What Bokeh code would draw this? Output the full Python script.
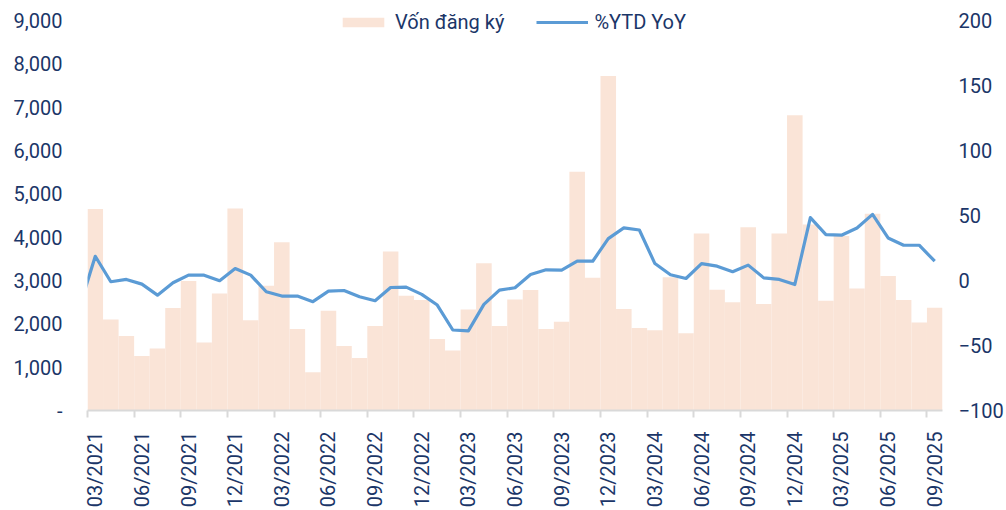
from bokeh.plotting import figure
from bokeh.models import (ColumnDataSource, Range1d, LinearAxis, FixedTicker,
                          Legend, LegendItem)
from bokeh.embed import file_html
from bokeh.resources import INLINE
import math

# ---------------- data ----------------
years_months = [(2021, m) for m in range(3, 13)] + [(2022, m) for m in range(1, 13)] + \
               [(2023, m) for m in range(1, 13)] + [(2024, m) for m in range(1, 13)] + \
               [(2025, m) for m in range(1, 10)]
months = [f"{m:02d}/{y}" for (y, m) in years_months]

von_dang_ky = [4650, 2100, 1720, 1255, 1430, 2365, 2990, 1570, 2700, 4660,
               2080, 2880, 3880, 1880, 880, 2300, 1490, 1210, 1950, 3670,
               2650, 2550, 1650, 1385, 2330, 3400, 1950, 2560, 2780, 1880,
               2050, 5510, 3060, 7720, 2340, 1905, 1850, 3075, 1785, 4085,
               2785, 2495, 4225, 2455, 4085, 6810, 4290, 2530, 4025, 2815,
               4540, 3105, 2550, 2030, 2370]

# %YTD YoY; first value belongs to 02/2021 (only its segment edge is visible)
ytd_prev = -20.0
ytd_yoy = [18.6, -1.0, 0.8, -2.8, -11.3, -1.8, 4.1, 4.1, -0.2, 9.2,
           4.1, -8.7, -12.0, -12.0, -16.3, -8.2, -7.7, -12.5, -15.6, -5.4,
           -5.1, -10.7, -18.9, -38.1, -38.8, -18.4, -7.4, -5.6, 4.6, 8.2,
           7.9, 14.8, 14.8, 32.2, 40.4, 38.8, 13.0, 4.4, 1.5, 13.0,
           11.0, 6.7, 11.8, 2.0, 0.8, -3.1, 48.3, 35.3, 34.8, 40.4,
           50.8, 32.7, 27.1, 27.1, 14.8]

left_ticks = [0, 1000, 2000, 3000, 4000, 5000, 6000, 7000, 8000, 9000]
right_ticks = [-100, -50, 0, 50, 100, 150, 200]

# ---------------- styling ----------------
NAVY = "#1B3668"
BAR = "#FAE4D7"
LINE = "#5B9BD5"
FONT = "Roboto"
FS = "20px"

# frame spans page y 0..412, while the axes' top ticks (9,000 / 200) sit at y=20
FRAME_H = 412
AXIS_H = 392
left_max = 9000 * FRAME_H / AXIS_H
right_max = -100 + 300 * FRAME_H / AXIS_H

n = len(months)
xs = [i + 0.5 for i in range(n)]
bar_src = ColumnDataSource(dict(x=xs, top=von_dang_ky, month=months))
line_src = ColumnDataSource(dict(x=[-0.5] + xs, y=[ytd_prev] + ytd_yoy))

p = figure(width=1006, height=510, output_backend="svg", toolbar_location=None,
           x_range=Range1d(0, n), y_range=Range1d(0, left_max),
           min_border_left=87, min_border_right=63, min_border_top=0,
           min_border_bottom=98)
p.outline_line_color = None
p.grid.grid_line_color = None
p.background_fill_color = "white"
p.border_fill_color = "white"

p.extra_y_ranges = {"pct": Range1d(-100, right_max)}

bars = p.vbar(x="x", top="top", width=1.0, bottom=0, source=bar_src,
              fill_color=BAR, line_color=None)
line = p.line(x="x", y="y", source=line_src, y_range_name="pct",
              line_color=LINE, line_width=3.2, line_join="round")

# x axis: labels at bar centres every 3 months, tick marks at bar edges
xax = p.xaxis[0]
label_pos = [i + 0.5 for i in range(0, n, 3)]
xax.ticker = FixedTicker(ticks=label_pos, minor_ticks=[float(i) for i in range(0, n, 3)])
xax.major_label_overrides = {i + 0.5: months[i] for i in range(0, n, 3)}
xax.major_label_orientation = math.pi / 2
xax.major_tick_line_color = None
xax.major_tick_out = 0
xax.major_tick_in = 0
xax.minor_tick_line_color = "#D9D9D9"
xax.minor_tick_line_width = 2
xax.minor_tick_out = 7
xax.minor_tick_in = 0
xax.axis_line_color = "#D9D9D9"
xax.axis_line_width = 2
xax.major_label_standoff = 14
xax.major_label_text_font = FONT
xax.major_label_text_font_size = FS
xax.major_label_text_color = NAVY

def style_y(ax, standoff):
    ax.axis_line_color = None
    ax.major_tick_line_color = None
    ax.minor_tick_line_color = None
    ax.major_tick_out = 0
    ax.major_tick_in = 0
    ax.minor_tick_out = 0
    ax.minor_tick_in = 0
    ax.major_label_standoff = standoff
    ax.major_label_text_font = FONT
    ax.major_label_text_font_size = FS
    ax.major_label_text_color = NAVY

# left axis
yax = p.yaxis[0]
yax.ticker = FixedTicker(ticks=left_ticks)
yax.major_label_overrides = {t: ("-" if t == 0 else f"{t:,}") for t in left_ticks}
style_y(yax, 25)

# right axis
rax = LinearAxis(y_range_name="pct", ticker=FixedTicker(ticks=right_ticks))
style_y(rax, 16)
p.add_layout(rax, "right")

legend = Legend(items=[LegendItem(label="Vốn đăng ký", renderers=[bars]),
                       LegendItem(label="%YTD YoY", renderers=[line])],
                orientation="horizontal", location=(250, 376),
                background_fill_alpha=0, border_line_color=None,
                glyph_width=52, glyph_height=12, label_standoff=6,
                spacing=32, padding=0, margin=0,
                label_text_font=FONT, label_text_font_size=FS,
                label_text_color=NAVY, label_height=24)
p.add_layout(legend, "center")

open("out.html", "w").write(file_html(p, INLINE))
